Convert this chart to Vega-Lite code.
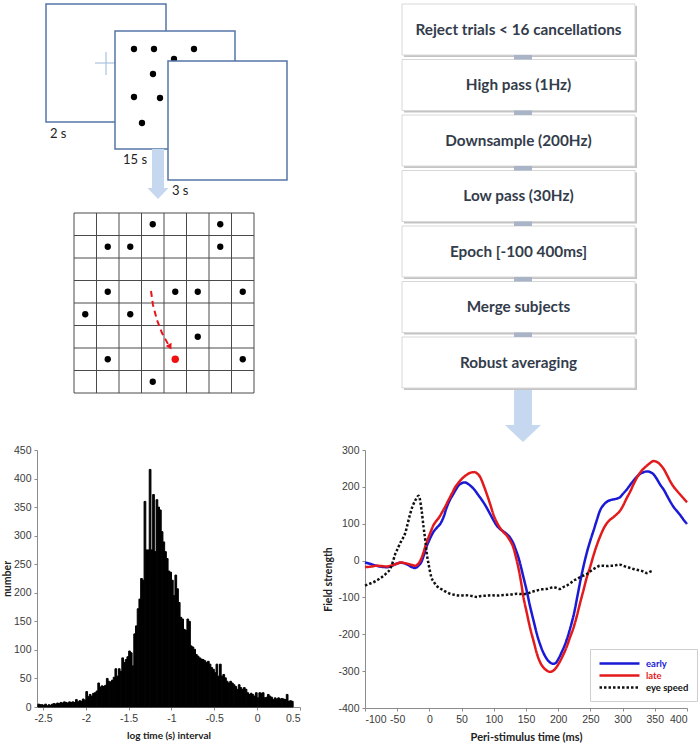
{
"$schema":"https://vega.github.io/schema/vega-lite/v6.json",
"padding":{"left":2,"top":0,"right":0,"bottom":0},
"bounds":"flush",
"spacing":5,
"background":"white",
"config":{
 "view":{"stroke":null,"fill":"white"},
 "font":"Lato",
 "axis":{"domainColor":"#8c8c8c","tickColor":"#8c8c8c","labelColor":"#3a3a3a","labelFont":"Liberation Sans","labelFontSize":10.5,"titleFont":"Lato","titleFontWeight":"bold","titleColor":"#222","grid":false,"tickSize":3,"labelPadding":3},
 "legend":{"orient":"none","legendX":553,"legendY":649,"symbolType":"M-4,0L4,0","symbolSize":100,"symbolOffset":15,"symbolStrokeWidth":2.5,"labelFont":"Lato","labelFontSize":9.5,"labelFontWeight":"bold","padding":8,"rowPadding":0,"strokeColor":"#cfcfcf","fillColor":"white","labelOffset":20}
},
"vconcat":[
{
 "width":663,"height":445,
 "encoding":{
  "x":{"field":"x","type":"quantitative","scale":{"domain":[37,700],"nice":false,"zero":false},"axis":null},
  "y":{"field":"y","type":"quantitative","scale":{"domain":[0,445],"reverse":true,"nice":false,"zero":false},"axis":null}
 },
 "layer":[
  {"data":{"values":[{"x":46,"y":4,"x2":166,"y2":122}]},"mark":{"type":"rect","fill":"white","stroke":"#5674a8","strokeWidth":1.5},"encoding":{"x2":{"field":"x2"},"y2":{"field":"y2"}}},
  {"data":{"values":[{"x":95,"y":63,"x2":115,"y2":63},{"x":106,"y":52,"x2":106,"y2":75}]},"mark":{"type":"rule","stroke":"#a9c1e0","strokeWidth":1.2},"encoding":{"x2":{"field":"x2"},"y2":{"field":"y2"}}},
  {"data":{"values":[{"x":115,"y":31,"x2":235,"y2":149}]},"mark":{"type":"rect","fill":"white","stroke":"#5674a8","strokeWidth":1.5},"encoding":{"x2":{"field":"x2"},"y2":{"field":"y2"}}},
  {"data":{"values":[{"x":134,"y":49},{"x":154,"y":49},{"x":194,"y":49},{"x":174,"y":59},{"x":153,"y":74},{"x":134,"y":97},{"x":160,"y":98},{"x":142,"y":123}]},"mark":{"type":"point","filled":true,"fill":"black","strokeWidth":0,"size":40,"shape":"circle","opacity":1}},
  {"data":{"values":[{"x":168,"y":61,"x2":287,"y2":180}]},"mark":{"type":"rect","fill":"white","stroke":"#5674a8","strokeWidth":1.5},"encoding":{"x2":{"field":"x2"},"y2":{"field":"y2"}}},
  {"data":{"values":[{"x":50,"y":138,"label":"2 s"},{"x":123,"y":164,"label":"15 s"},{"x":172,"y":195,"label":"3 s"}]},"mark":{"type":"text","align":"left","baseline":"alphabetic","font":"Lato","fontSize":13,"fill":"#222"},"encoding":{"text":{"field":"label"}}},
  {"data":{"values":[{"x":158,"y":174}]},"mark":{"type":"point","filled":true,"fill":"#c5d8ef","strokeWidth":0,"opacity":1,"size":2500,"shape":"M-0.24,-1L0.24,-1L0.24,0.56L0.42,0.56L0,1L-0.42,0.56L-0.24,0.56Z"}},
  {"data":{"values":[{"x":523,"y":415.5}]},"mark":{"type":"point","filled":true,"fill":"#c5d8ef","strokeWidth":0,"opacity":1,"size":2809,"shape":"M-0.34,-1L0.34,-1L0.34,0.36L0.68,0.36L0,1L-0.68,0.36L-0.34,0.36Z"}},
  {"data":{"values":[
   {"x":74,"y":213,"x2":74,"y2":393},{"x":96.5,"y":213,"x2":96.5,"y2":393},{"x":119,"y":213,"x2":119,"y2":393},{"x":141.5,"y":213,"x2":141.5,"y2":393},{"x":164,"y":213,"x2":164,"y2":393},{"x":186.5,"y":213,"x2":186.5,"y2":393},{"x":209,"y":213,"x2":209,"y2":393},{"x":231.5,"y":213,"x2":231.5,"y2":393},{"x":254,"y":213,"x2":254,"y2":393},
   {"x":74,"y":213,"x2":254,"y2":213},{"x":74,"y":235.5,"x2":254,"y2":235.5},{"x":74,"y":258,"x2":254,"y2":258},{"x":74,"y":280.5,"x2":254,"y2":280.5},{"x":74,"y":303,"x2":254,"y2":303},{"x":74,"y":325.5,"x2":254,"y2":325.5},{"x":74,"y":348,"x2":254,"y2":348},{"x":74,"y":370.5,"x2":254,"y2":370.5},{"x":74,"y":393,"x2":254,"y2":393}
  ]},"mark":{"type":"rule","stroke":"#4a4a4a","strokeWidth":1},"encoding":{"x2":{"field":"x2"},"y2":{"field":"y2"}}},
  {"data":{"values":[
   {"x":152.75,"y":224.25},{"x":220.25,"y":224.25},{"x":107.75,"y":246.75},{"x":130.25,"y":246.75},{"x":220.25,"y":246.75},
   {"x":107.75,"y":291.75},{"x":175.25,"y":291.75},{"x":197.75,"y":291.75},{"x":242.75,"y":291.75},
   {"x":85.25,"y":314.25},{"x":130.25,"y":314.25},{"x":197.75,"y":336.75},
   {"x":107.75,"y":359.25},{"x":242.75,"y":359.25},{"x":152.75,"y":381.75}
  ]},"mark":{"type":"point","filled":true,"fill":"black","strokeWidth":0,"size":40,"shape":"circle","opacity":1}},
  {"data":{"values":[{"x":151,"y":291,"o":1},{"x":153,"y":305,"o":2},{"x":157,"y":320,"o":3},{"x":162,"y":333,"o":4},{"x":168,"y":344,"o":5}]},"mark":{"type":"line","stroke":"#e8141c","strokeWidth":2,"strokeDash":[6,4]},"encoding":{"order":{"field":"o","type":"quantitative"}}},
  {"data":{"values":[{"x":170,"y":347}]},"mark":{"type":"point","filled":true,"fill":"#e8141c","strokeWidth":0,"opacity":1,"size":45,"shape":"triangle-down","angle":-28}},
  {"data":{"values":[{"x":175.25,"y":359.25}]},"mark":{"type":"point","filled":true,"fill":"#f01010","strokeWidth":0,"opacity":1,"size":55,"shape":"circle"}},
  {"data":{"values":[
   {"x":404,"y":6,"x2":637,"y2":57},{"x":404,"y":61.5,"x2":637,"y2":112.5},{"x":404,"y":117,"x2":637,"y2":168},{"x":404,"y":172.5,"x2":637,"y2":223.5},{"x":404,"y":228,"x2":637,"y2":279},{"x":404,"y":283.5,"x2":637,"y2":334.5},{"x":404,"y":339,"x2":637,"y2":390}
  ]},"mark":{"type":"rect","fill":"#c4c4c4"},"encoding":{"x2":{"field":"x2"},"y2":{"field":"y2"}}},
  {"data":{"values":[
   {"x":402,"y":4,"x2":635,"y2":55},{"x":402,"y":59.5,"x2":635,"y2":110.5},{"x":402,"y":115,"x2":635,"y2":166},{"x":402,"y":170.5,"x2":635,"y2":221.5},{"x":402,"y":226,"x2":635,"y2":277},{"x":402,"y":281.5,"x2":635,"y2":332.5},{"x":402,"y":337,"x2":635,"y2":388}
  ]},"mark":{"type":"rect","fill":"white","stroke":"#d8d8d8","strokeWidth":1},"encoding":{"x2":{"field":"x2"},"y2":{"field":"y2"}}},
  {"data":{"values":[
   {"x":514,"y":55,"x2":532,"y2":59.5},{"x":514,"y":110.5,"x2":532,"y2":115},{"x":514,"y":166,"x2":532,"y2":170.5},{"x":514,"y":221.5,"x2":532,"y2":226},{"x":514,"y":277,"x2":532,"y2":281.5},{"x":514,"y":332.5,"x2":532,"y2":337}
  ]},"mark":{"type":"rect","fill":"#a9b4c6"},"encoding":{"x2":{"field":"x2"},"y2":{"field":"y2"}}},
  {"data":{"values":[
   {"x":518.5,"y":29.5,"label":"Reject trials < 16 cancellations"},
   {"x":518.5,"y":85,"label":"High pass (1Hz)"},
   {"x":518.5,"y":140.5,"label":"Downsample (200Hz)"},
   {"x":518.5,"y":196,"label":"Low pass (30Hz)"},
   {"x":518.5,"y":251.5,"label":"Epoch [-100 400ms]"},
   {"x":518.5,"y":307,"label":"Merge subjects"},
   {"x":518.5,"y":362.5,"label":"Robust averaging"}
  ]},"mark":{"type":"text","align":"center","baseline":"middle","font":"Lato","fontWeight":"bold","fontSize":15.3,"fill":"#333c4b"},"encoding":{"text":{"field":"label"}}}
 ]
},
{
 "hconcat":[
 {
  "width":263,"height":257,
  "data":{"values":[
   {"a":-2.56,"b":-2.54,"n":5},{"a":-2.54,"b":-2.52,"n":4},{"a":-2.52,"b":-2.5,"n":4},{"a":-2.5,"b":-2.48,"n":3},{"a":-2.48,"b":-2.46,"n":5},{"a":-2.46,"b":-2.44,"n":2},{"a":-2.44,"b":-2.42,"n":4},{"a":-2.42,"b":-2.4,"n":3},{"a":-2.4,"b":-2.38,"n":5},{"a":-2.38,"b":-2.36,"n":6},
   {"a":-2.36,"b":-2.34,"n":5},{"a":-2.34,"b":-2.32,"n":7},{"a":-2.32,"b":-2.3,"n":6},{"a":-2.3,"b":-2.28,"n":8},{"a":-2.28,"b":-2.26,"n":7},{"a":-2.26,"b":-2.24,"n":9},{"a":-2.24,"b":-2.22,"n":8},{"a":-2.22,"b":-2.2,"n":7},{"a":-2.2,"b":-2.18,"n":9},{"a":-2.18,"b":-2.16,"n":8},
   {"a":-2.16,"b":-2.14,"n":9},{"a":-2.14,"b":-2.12,"n":8},{"a":-2.12,"b":-2.1,"n":13},{"a":-2.1,"b":-2.08,"n":9},{"a":-2.08,"b":-2.06,"n":11},{"a":-2.06,"b":-2.04,"n":10},{"a":-2.04,"b":-2.02,"n":14},{"a":-2.02,"b":-2.0,"n":12},{"a":-2.0,"b":-1.98,"n":27},{"a":-1.98,"b":-1.96,"n":18},
   {"a":-1.96,"b":-1.94,"n":22},{"a":-1.94,"b":-1.92,"n":19},{"a":-1.92,"b":-1.9,"n":24},{"a":-1.9,"b":-1.88,"n":25},{"a":-1.88,"b":-1.86,"n":28},{"a":-1.86,"b":-1.84,"n":42},{"a":-1.84,"b":-1.82,"n":35},{"a":-1.82,"b":-1.8,"n":37},{"a":-1.8,"b":-1.78,"n":36},{"a":-1.78,"b":-1.76,"n":38},
   {"a":-1.76,"b":-1.74,"n":50},{"a":-1.74,"b":-1.72,"n":45},{"a":-1.72,"b":-1.7,"n":44},{"a":-1.7,"b":-1.68,"n":47},{"a":-1.68,"b":-1.66,"n":52},{"a":-1.66,"b":-1.64,"n":67},{"a":-1.64,"b":-1.62,"n":54},{"a":-1.62,"b":-1.6,"n":67},{"a":-1.6,"b":-1.58,"n":62},{"a":-1.58,"b":-1.56,"n":86},
   {"a":-1.56,"b":-1.54,"n":78},{"a":-1.54,"b":-1.52,"n":83},{"a":-1.52,"b":-1.5,"n":88},{"a":-1.5,"b":-1.48,"n":98},{"a":-1.48,"b":-1.46,"n":95},{"a":-1.46,"b":-1.44,"n":72},{"a":-1.44,"b":-1.42,"n":128},{"a":-1.42,"b":-1.4,"n":142},{"a":-1.4,"b":-1.38,"n":172},{"a":-1.38,"b":-1.36,"n":189},
   {"a":-1.36,"b":-1.34,"n":225},{"a":-1.34,"b":-1.32,"n":222},{"a":-1.32,"b":-1.3,"n":360},{"a":-1.3,"b":-1.28,"n":275},{"a":-1.28,"b":-1.26,"n":275},{"a":-1.26,"b":-1.24,"n":416},{"a":-1.24,"b":-1.22,"n":275},{"a":-1.22,"b":-1.2,"n":372},{"a":-1.2,"b":-1.18,"n":272},{"a":-1.18,"b":-1.16,"n":363},
   {"a":-1.16,"b":-1.14,"n":350},{"a":-1.14,"b":-1.12,"n":345},{"a":-1.12,"b":-1.1,"n":307},{"a":-1.1,"b":-1.08,"n":289},{"a":-1.08,"b":-1.06,"n":272},{"a":-1.06,"b":-1.04,"n":260},{"a":-1.04,"b":-1.02,"n":238},{"a":-1.02,"b":-1.0,"n":236},{"a":-1.0,"b":-0.98,"n":222},{"a":-0.98,"b":-0.96,"n":195},
   {"a":-0.96,"b":-0.94,"n":231},{"a":-0.94,"b":-0.92,"n":207},{"a":-0.92,"b":-0.9,"n":183},{"a":-0.9,"b":-0.88,"n":157},{"a":-0.88,"b":-0.86,"n":154},{"a":-0.86,"b":-0.84,"n":136},{"a":-0.84,"b":-0.82,"n":134},{"a":-0.82,"b":-0.8,"n":154},{"a":-0.8,"b":-0.78,"n":150},{"a":-0.78,"b":-0.76,"n":107},
   {"a":-0.76,"b":-0.74,"n":105},{"a":-0.74,"b":-0.72,"n":101},{"a":-0.72,"b":-0.7,"n":92},{"a":-0.7,"b":-0.68,"n":89},{"a":-0.68,"b":-0.66,"n":86},{"a":-0.66,"b":-0.64,"n":84},{"a":-0.64,"b":-0.62,"n":83},{"a":-0.62,"b":-0.6,"n":81},{"a":-0.6,"b":-0.58,"n":78},{"a":-0.58,"b":-0.56,"n":80},
   {"a":-0.56,"b":-0.54,"n":75},{"a":-0.54,"b":-0.52,"n":69},{"a":-0.52,"b":-0.5,"n":66},{"a":-0.5,"b":-0.48,"n":60},{"a":-0.48,"b":-0.46,"n":75},{"a":-0.46,"b":-0.44,"n":54},{"a":-0.44,"b":-0.42,"n":75},{"a":-0.42,"b":-0.4,"n":54},{"a":-0.4,"b":-0.38,"n":57},{"a":-0.38,"b":-0.36,"n":51},
   {"a":-0.36,"b":-0.34,"n":45},{"a":-0.34,"b":-0.32,"n":42},{"a":-0.32,"b":-0.3,"n":45},{"a":-0.3,"b":-0.28,"n":42},{"a":-0.28,"b":-0.26,"n":39},{"a":-0.26,"b":-0.24,"n":36},{"a":-0.24,"b":-0.22,"n":31},{"a":-0.22,"b":-0.2,"n":39},{"a":-0.2,"b":-0.18,"n":34},{"a":-0.18,"b":-0.16,"n":31},
   {"a":-0.16,"b":-0.14,"n":34},{"a":-0.14,"b":-0.12,"n":31},{"a":-0.12,"b":-0.1,"n":25},{"a":-0.1,"b":-0.08,"n":22},{"a":-0.08,"b":-0.06,"n":24},{"a":-0.06,"b":-0.04,"n":22},{"a":-0.04,"b":-0.02,"n":19},{"a":-0.02,"b":0.0,"n":25},{"a":0.0,"b":0.02,"n":16},{"a":0.02,"b":0.04,"n":25},
   {"a":0.04,"b":0.06,"n":24},{"a":0.06,"b":0.08,"n":25},{"a":0.08,"b":0.1,"n":16},{"a":0.1,"b":0.12,"n":17},{"a":0.12,"b":0.14,"n":22},{"a":0.14,"b":0.16,"n":19},{"a":0.16,"b":0.18,"n":17},{"a":0.18,"b":0.2,"n":13},{"a":0.2,"b":0.22,"n":16},{"a":0.22,"b":0.24,"n":14},
   {"a":0.24,"b":0.26,"n":16},{"a":0.26,"b":0.28,"n":14},{"a":0.28,"b":0.3,"n":15},{"a":0.3,"b":0.32,"n":14},{"a":0.32,"b":0.34,"n":13},{"a":0.34,"b":0.36,"n":22},{"a":0.36,"b":0.38,"n":10},{"a":0.38,"b":0.4,"n":11},{"a":0.4,"b":0.42,"n":10}
  ]},
  "mark":{"type":"rect","fill":"black","stroke":"black","strokeWidth":1},
  "encoding":{
   "x":{"field":"a","type":"quantitative","scale":{"domain":[-2.57,0.5],"nice":false,"zero":false},
        "axis":{"title":"log time (s) interval","values":[-2.5,-2,-1.5,-1,-0.5,0,0.5],"format":"~g","labelExpr":"replace(datum.label,'\u2212','-')","titleFontSize":10,"titlePadding":7}},
   "x2":{"field":"b"},
   "y":{"field":"n","type":"quantitative","scale":{"domain":[0,450],"nice":false},
        "axis":{"title":"number","values":[0,50,100,150,200,250,300,350,400,450],"titleFontSize":10.5,"titleX":-35,"titleBaseline":"top"}},
   "y2":{"datum":0}
  }
 },
 {
  "width":322,"height":258,
  "data":{"values":[
   {"s":"early","t":-100,"v":-5},{"s":"early","t":-90,"v":-10},{"s":"early","t":-82,"v":-14},{"s":"early","t":-74,"v":-17},{"s":"early","t":-66,"v":-18},{"s":"early","t":-58,"v":-14},{"s":"early","t":-50,"v":-8},{"s":"early","t":-45,"v":-6},{"s":"early","t":-40,"v":-7},{"s":"early","t":-34,"v":-11},
   {"s":"early","t":-28,"v":-17},{"s":"early","t":-22,"v":-20},{"s":"early","t":-17,"v":-14},{"s":"early","t":-12,"v":-2},{"s":"early","t":-8,"v":18},{"s":"early","t":-4,"v":40},{"s":"early","t":0,"v":56},{"s":"early","t":6,"v":77},{"s":"early","t":12,"v":90},{"s":"early","t":17,"v":100},
   {"s":"early","t":22,"v":118},{"s":"early","t":27,"v":145},{"s":"early","t":32,"v":165},{"s":"early","t":37,"v":180},{"s":"early","t":43,"v":198},{"s":"early","t":48,"v":208},{"s":"early","t":55,"v":212},{"s":"early","t":60,"v":208},{"s":"early","t":65,"v":201},{"s":"early","t":70,"v":192},
   {"s":"early","t":75,"v":180},{"s":"early","t":80,"v":168},{"s":"early","t":85,"v":155},{"s":"early","t":90,"v":140},{"s":"early","t":95,"v":124},{"s":"early","t":100,"v":108},{"s":"early","t":105,"v":94},{"s":"early","t":110,"v":85},{"s":"early","t":115,"v":79},{"s":"early","t":120,"v":72},
   {"s":"early","t":125,"v":63},{"s":"early","t":130,"v":48},{"s":"early","t":134,"v":30},{"s":"early","t":138,"v":10},{"s":"early","t":141,"v":-9},{"s":"early","t":146,"v":-45},{"s":"early","t":151,"v":-81},{"s":"early","t":156,"v":-122},{"s":"early","t":162,"v":-165},{"s":"early","t":167,"v":-200},
   {"s":"early","t":172,"v":-228},{"s":"early","t":177,"v":-250},{"s":"early","t":182,"v":-266},{"s":"early","t":187,"v":-276},{"s":"early","t":192,"v":-280},{"s":"early","t":196,"v":-278},{"s":"early","t":200,"v":-268},{"s":"early","t":205,"v":-250},{"s":"early","t":210,"v":-230},{"s":"early","t":215,"v":-205},
   {"s":"early","t":220,"v":-175},{"s":"early","t":225,"v":-140},{"s":"early","t":230,"v":-95},{"s":"early","t":235,"v":-50},{"s":"early","t":240,"v":-10},{"s":"early","t":245,"v":25},{"s":"early","t":250,"v":55},{"s":"early","t":255,"v":82},{"s":"early","t":260,"v":110},{"s":"early","t":265,"v":136},
   {"s":"early","t":270,"v":150},{"s":"early","t":276,"v":160},{"s":"early","t":281,"v":164},{"s":"early","t":286,"v":166},{"s":"early","t":291,"v":168},{"s":"early","t":296,"v":172},{"s":"early","t":301,"v":182},{"s":"early","t":307,"v":194},{"s":"early","t":312,"v":206},{"s":"early","t":317,"v":217},
   {"s":"early","t":322,"v":227},{"s":"early","t":327,"v":235},{"s":"early","t":333,"v":240},{"s":"early","t":338,"v":242},{"s":"early","t":343,"v":240},{"s":"early","t":348,"v":234},{"s":"early","t":353,"v":222},{"s":"early","t":358,"v":207},{"s":"early","t":364,"v":192},{"s":"early","t":369,"v":176},
   {"s":"early","t":374,"v":160},{"s":"early","t":379,"v":146},{"s":"early","t":385,"v":133},{"s":"early","t":390,"v":122},{"s":"early","t":395,"v":110},{"s":"early","t":400,"v":99},
   {"s":"late","t":-100,"v":-18},{"s":"late","t":-90,"v":-16},{"s":"late","t":-82,"v":-14},{"s":"late","t":-74,"v":-15},{"s":"late","t":-66,"v":-16},{"s":"late","t":-58,"v":-13},{"s":"late","t":-50,"v":-8},{"s":"late","t":-44,"v":-5},{"s":"late","t":-38,"v":-7},{"s":"late","t":-33,"v":-9},
   {"s":"late","t":-27,"v":-12},{"s":"late","t":-22,"v":-14},{"s":"late","t":-18,"v":-10},{"s":"late","t":-14,"v":0},{"s":"late","t":-10,"v":18},{"s":"late","t":-6,"v":40},{"s":"late","t":-2,"v":60},{"s":"late","t":2,"v":78},{"s":"late","t":6,"v":95},{"s":"late","t":10,"v":106},
   {"s":"late","t":15,"v":117},{"s":"late","t":20,"v":132},{"s":"late","t":25,"v":148},{"s":"late","t":30,"v":165},{"s":"late","t":35,"v":182},{"s":"late","t":40,"v":199},{"s":"late","t":45,"v":211},{"s":"late","t":50,"v":221},{"s":"late","t":55,"v":229},{"s":"late","t":60,"v":235},
   {"s":"late","t":65,"v":239},{"s":"late","t":70,"v":240},{"s":"late","t":75,"v":235},{"s":"late","t":79,"v":226},{"s":"late","t":84,"v":205},{"s":"late","t":89,"v":181},{"s":"late","t":94,"v":155},{"s":"late","t":99,"v":127},{"s":"late","t":104,"v":106},{"s":"late","t":110,"v":88},
   {"s":"late","t":115,"v":77},{"s":"late","t":120,"v":68},{"s":"late","t":125,"v":55},{"s":"late","t":130,"v":37},{"s":"late","t":134,"v":12},{"s":"late","t":138,"v":-18},{"s":"late","t":142,"v":-55},{"s":"late","t":146,"v":-99},{"s":"late","t":151,"v":-140},{"s":"late","t":156,"v":-180},
   {"s":"late","t":162,"v":-220},{"s":"late","t":167,"v":-253},{"s":"late","t":172,"v":-276},{"s":"late","t":177,"v":-290},{"s":"late","t":182,"v":-298},{"s":"late","t":187,"v":-302},{"s":"late","t":192,"v":-299},{"s":"late","t":197,"v":-290},{"s":"late","t":202,"v":-276},{"s":"late","t":208,"v":-255},
   {"s":"late","t":213,"v":-235},{"s":"late","t":218,"v":-210},{"s":"late","t":224,"v":-181},{"s":"late","t":229,"v":-150},{"s":"late","t":234,"v":-115},{"s":"late","t":239,"v":-82},{"s":"late","t":244,"v":-48},{"s":"late","t":250,"v":-15},{"s":"late","t":255,"v":15},{"s":"late","t":260,"v":42},
   {"s":"late","t":265,"v":65},{"s":"late","t":270,"v":85},{"s":"late","t":275,"v":100},{"s":"late","t":280,"v":110},{"s":"late","t":286,"v":118},{"s":"late","t":291,"v":126},{"s":"late","t":296,"v":135},{"s":"late","t":301,"v":150},{"s":"late","t":306,"v":168},{"s":"late","t":312,"v":188},
   {"s":"late","t":317,"v":207},{"s":"late","t":322,"v":224},{"s":"late","t":327,"v":238},{"s":"late","t":333,"v":250},{"s":"late","t":338,"v":258},{"s":"late","t":343,"v":265},{"s":"late","t":348,"v":270},{"s":"late","t":353,"v":268},{"s":"late","t":358,"v":261},{"s":"late","t":364,"v":248},
   {"s":"late","t":369,"v":232},{"s":"late","t":374,"v":215},{"s":"late","t":379,"v":201},{"s":"late","t":385,"v":188},{"s":"late","t":390,"v":178},{"s":"late","t":395,"v":168},{"s":"late","t":400,"v":158},
   {"s":"eye speed","t":-100,"v":-68},{"s":"eye speed","t":-93,"v":-63},{"s":"eye speed","t":-87,"v":-59},{"s":"eye speed","t":-80,"v":-52},{"s":"eye speed","t":-74,"v":-45},{"s":"eye speed","t":-67,"v":-35},{"s":"eye speed","t":-61,"v":-23},{"s":"eye speed","t":-57,"v":-5},{"s":"eye speed","t":-53,"v":18},{"s":"eye speed","t":-49,"v":33},
   {"s":"eye speed","t":-46,"v":45},{"s":"eye speed","t":-42,"v":58},{"s":"eye speed","t":-38,"v":72},{"s":"eye speed","t":-34,"v":98},{"s":"eye speed","t":-30,"v":126},{"s":"eye speed","t":-26,"v":148},{"s":"eye speed","t":-22,"v":163},{"s":"eye speed","t":-19,"v":172},{"s":"eye speed","t":-17,"v":176},{"s":"eye speed","t":-15,"v":168},
   {"s":"eye speed","t":-12,"v":135},{"s":"eye speed","t":-9,"v":90},{"s":"eye speed","t":-6,"v":50},{"s":"eye speed","t":-4,"v":18},{"s":"eye speed","t":-1,"v":-12},{"s":"eye speed","t":3,"v":-45},{"s":"eye speed","t":7,"v":-58},{"s":"eye speed","t":11,"v":-68},{"s":"eye speed","t":16,"v":-75},{"s":"eye speed","t":22,"v":-81},
   {"s":"eye speed","t":27,"v":-86},{"s":"eye speed","t":32,"v":-90},{"s":"eye speed","t":40,"v":-93},{"s":"eye speed","t":48,"v":-95},{"s":"eye speed","t":55,"v":-94},{"s":"eye speed","t":63,"v":-95},{"s":"eye speed","t":68,"v":-97},{"s":"eye speed","t":74,"v":-99},{"s":"eye speed","t":80,"v":-96},{"s":"eye speed","t":89,"v":-95},
   {"s":"eye speed","t":97,"v":-94},{"s":"eye speed","t":105,"v":-95},{"s":"eye speed","t":112,"v":-94},{"s":"eye speed","t":120,"v":-93},{"s":"eye speed","t":128,"v":-92},{"s":"eye speed","t":136,"v":-90},{"s":"eye speed","t":143,"v":-91},{"s":"eye speed","t":151,"v":-90},{"s":"eye speed","t":159,"v":-85},{"s":"eye speed","t":167,"v":-81},
   {"s":"eye speed","t":175,"v":-78},{"s":"eye speed","t":182,"v":-77},{"s":"eye speed","t":188,"v":-74},{"s":"eye speed","t":193,"v":-72},{"s":"eye speed","t":198,"v":-75},{"s":"eye speed","t":203,"v":-77},{"s":"eye speed","t":208,"v":-72},{"s":"eye speed","t":213,"v":-68},{"s":"eye speed","t":219,"v":-61},{"s":"eye speed","t":224,"v":-54},
   {"s":"eye speed","t":229,"v":-50},{"s":"eye speed","t":234,"v":-45},{"s":"eye speed","t":239,"v":-41},{"s":"eye speed","t":245,"v":-36},{"s":"eye speed","t":250,"v":-29},{"s":"eye speed","t":255,"v":-23},{"s":"eye speed","t":260,"v":-18},{"s":"eye speed","t":265,"v":-14},{"s":"eye speed","t":270,"v":-14},{"s":"eye speed","t":276,"v":-15},
   {"s":"eye speed","t":281,"v":-14},{"s":"eye speed","t":286,"v":-14},{"s":"eye speed","t":291,"v":-12},{"s":"eye speed","t":296,"v":-11},{"s":"eye speed","t":301,"v":-14},{"s":"eye speed","t":307,"v":-18},{"s":"eye speed","t":312,"v":-20},{"s":"eye speed","t":317,"v":-23},{"s":"eye speed","t":322,"v":-25},{"s":"eye speed","t":327,"v":-27},
   {"s":"eye speed","t":333,"v":-30},{"s":"eye speed","t":338,"v":-34},{"s":"eye speed","t":343,"v":-30},{"s":"eye speed","t":348,"v":-27}
  ]},
  "mark":{"type":"line","strokeWidth":2.5,"interpolate":"monotone","strokeCap":"butt"},
  "encoding":{
   "x":{"field":"t","type":"quantitative","scale":{"domain":[-100,400],"nice":false,"zero":false},
        "axis":{"title":"Peri-stimulus time (ms)","values":[-100,-50,0,50,100,150,200,250,300,350,400],"labelExpr":"replace(datum.label,'\u2212','-')","titleFontSize":11,"titlePadding":7}},
   "y":{"field":"v","type":"quantitative","scale":{"domain":[-400,300],"nice":false,"zero":false},
        "axis":{"title":"Field strength","values":[-400,-300,-200,-100,0,100,200,300],"labelExpr":"replace(datum.label,'\u2212','-')","titleFontSize":10.5,"titlePadding":4}},
   "color":{"field":"s","type":"nominal","scale":{"domain":["early","late","eye speed"],"range":["#1a1ad6","#e31a1c","#111111"]},
        "legend":{"title":null,"encode":{"labels":{"update":{"fill":{"signal":"datum.value==='early'?'#1a1ad6':datum.value==='late'?'#e31a1c':'#111111'"}}}}}},
   "strokeDash":{"field":"s","type":"nominal","scale":{"domain":["early","late","eye speed"],"range":[[1,0],[1,0],[2.5,2]]},
        "legend":{"title":null,"encode":{"labels":{"update":{"fill":{"signal":"datum.value==='early'?'#1a1ad6':datum.value==='late'?'#e31a1c':'#111111'"}}}}}}
  }
 }
 ],
 "spacing":65,
 "bounds":"flush"
}
]
}
